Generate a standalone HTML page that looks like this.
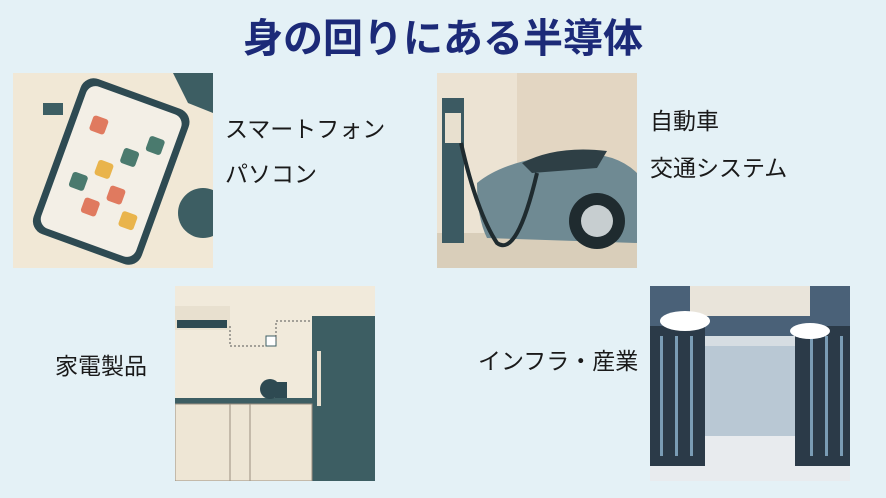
<!DOCTYPE html>
<html><head><meta charset="utf-8"><style>
html,body{margin:0;padding:0}
body{width:886px;height:498px;background:#e4f1f6;position:relative;overflow:hidden;font-family:"Liberation Sans","Noto Sans CJK JP",sans-serif}
.t{position:absolute;color:#1a1a1a;font-size:23px;white-space:nowrap}
.img{position:absolute;width:200px;height:195px;overflow:hidden}
h1{position:absolute;left:0;width:886px;top:15px;margin:0;text-align:center;font-size:40px;line-height:48px;color:#1c2a78;font-weight:bold}
</style></head><body>
<h1>身の回りにある半導体</h1>

<div class="img" style="left:13px;top:73px;background:#f1e8d6">
<svg width="200" height="195">
<polygon points="160,0 200,0 200,40 175,30" fill="#3d5e63"/>
<rect x="30" y="30" width="20" height="12" fill="#3d5e63"/>
<circle cx="190" cy="140" r="25" fill="#3d5e63"/>
<g transform="rotate(20 95 100)">
<rect x="40" y="15" width="115" height="165" rx="14" fill="#2e4a52"/>
<rect x="47" y="22" width="101" height="151" rx="10" fill="#f3efe6"/>
<g fill="#e07a5f"><rect x="62" y="50" width="16" height="16" rx="3"/><rect x="102" y="70" width="16" height="16" rx="3" fill="#4a7a6e"/><rect x="82" y="90" width="16" height="16" rx="3" fill="#e9b44c"/><rect x="62" y="110" width="16" height="16" rx="3" fill="#4a7a6e"/><rect x="102" y="110" width="16" height="16" rx="3"/><rect x="82" y="130" width="16" height="16" rx="3"/><rect x="122" y="50" width="16" height="16" rx="3" fill="#4a7a6e"/><rect x="122" y="130" width="16" height="16" rx="3" fill="#e9b44c"/></g>
</g></svg></div>
<div class="t" style="left:225px;top:110px">スマートフォン</div>
<div class="t" style="left:225px;top:155px">パソコン</div>

<div class="img" style="left:437px;top:73px;background:#ece3d3">
<svg width="200" height="195">
<rect x="80" y="0" width="120" height="195" fill="#e3d6c2"/>
<rect x="0" y="160" width="200" height="35" fill="#d9ceba"/>
<rect x="5" y="25" width="22" height="145" fill="#3c5a62"/>
<rect x="8" y="40" width="16" height="30" fill="#e8e0cf"/>
<path d="M40,110 Q70,85 140,80 Q180,80 200,100 L200,170 L50,165 Q40,145 40,110Z" fill="#6f8a93"/>
<path d="M85,90 Q120,72 170,78 L160,95 L95,100Z" fill="#2e3f45"/>
<circle cx="160" cy="148" r="28" fill="#1f2b2f"/><circle cx="160" cy="148" r="16" fill="#c7ced0"/>
<path d="M24,70 Q40,140 60,170 Q80,185 100,100" stroke="#1f2b2f" stroke-width="4" fill="none"/>
</svg></div>
<div class="t" style="left:650px;top:102px">自動車</div>
<div class="t" style="left:650px;top:149px">交通システム</div>

<div class="img" style="left:175px;top:286px;background:#f1eadb">
<svg width="200" height="195">
<rect x="0" y="20" width="55" height="24" fill="#e8e0cf"/><rect x="2" y="34" width="50" height="8" fill="#2e4a52"/>
<rect x="137" y="30" width="63" height="165" fill="#3d5e63"/><rect x="142" y="65" width="4" height="55" fill="#e8e0cf"/>
<rect x="0" y="112" width="137" height="6" fill="#3d5e63"/>
<rect x="0" y="118" width="137" height="77" fill="#eee6d5" stroke="#9a8f80"/>
<line x1="55" y1="118" x2="55" y2="195" stroke="#9a8f80"/><line x1="75" y1="118" x2="75" y2="195" stroke="#9a8f80"/>
<circle cx="95" cy="103" r="10" fill="#2e4a52"/><rect x="100" y="96" width="12" height="16" fill="#2e4a52"/>
<rect x="91" y="50" width="10" height="10" fill="#fff" stroke="#3d5e63"/>
<path d="M55,40 L55,60 L91,60 M101,55 L101,35 L137,35" stroke="#555" stroke-dasharray="2,2" fill="none"/>
</svg></div>
<div class="t" style="left:55px;top:347px">家電製品</div>

<div class="img" style="left:650px;top:286px;background:#d6dde2">
<svg width="200" height="195">
<rect x="0" y="0" width="200" height="50" fill="#4a6178"/>
<rect x="40" y="0" width="120" height="30" fill="#e9e4da"/>
<polygon points="0,150 200,150 200,195 0,195" fill="#e8ebee"/>
<rect x="0" y="40" width="55" height="140" fill="#2b3a48"/><rect x="145" y="40" width="55" height="140" fill="#2b3a48"/>
<rect x="55" y="60" width="90" height="90" fill="#b9c8d4"/>
<g fill="#7a9cb5"><rect x="10" y="50" width="3" height="120"/><rect x="25" y="50" width="3" height="120"/><rect x="40" y="50" width="3" height="120"/><rect x="160" y="50" width="3" height="120"/><rect x="175" y="50" width="3" height="120"/><rect x="190" y="50" width="3" height="120"/></g>
<ellipse cx="35" cy="35" rx="25" ry="10" fill="#fff"/><ellipse cx="160" cy="45" rx="20" ry="8" fill="#fff"/>
</svg></div>
<div class="t" style="left:478px;top:342px">インフラ・産業</div>
</body></html>
